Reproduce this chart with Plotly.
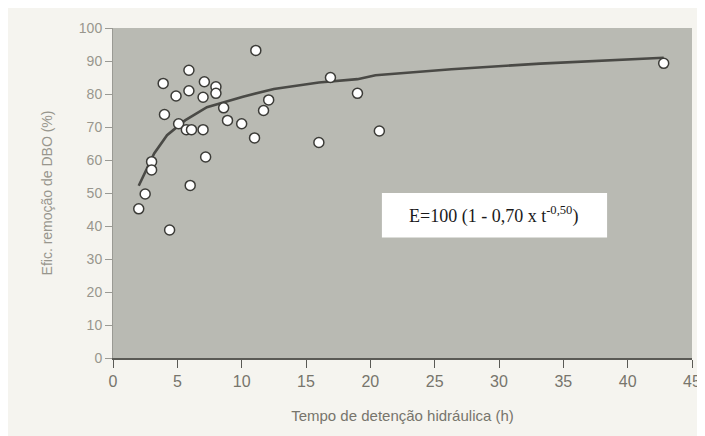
import plotly.graph_objects as go

# Observed data points (detention time h, BOD removal %)
t_obs = [2.0, 2.5, 3.0, 3.0, 3.9, 4.0, 4.4, 4.9, 5.1, 5.9, 5.9, 5.7, 6.1, 6.0,
         7.1, 7.0, 7.0, 7.2, 8.0, 8.0, 8.6, 8.9, 10.0, 11.0, 11.1, 11.7, 12.1,
         16.0, 16.9, 19.0, 20.7, 42.8]
e_obs = [45.2, 49.7, 59.5, 57.0, 83.2, 73.8, 38.8, 79.4, 71.0, 87.2, 81.0, 69.2, 69.2, 52.3,
         83.7, 79.0, 69.2, 60.9, 82.2, 80.2, 75.8, 72.0, 71.0, 66.7, 93.2, 75.0, 78.2,
         65.3, 85.0, 80.2, 68.8, 89.3]

# Fitted curve
t_fit = [2.0, 3.2, 4.2, 5.6, 7.3, 9.1, 10.1, 12.5, 16.0, 19.0, 20.4, 26.3, 33.2, 42.8]
e_fit = [52.2, 62.0, 67.5, 72.0, 76.0, 78.0, 79.2, 81.5, 83.5, 84.5, 85.7, 87.5, 89.2, 91.0]

x_ticks = [0, 5, 10, 15, 20, 25, 30, 35, 40, 45]
y_ticks = [0, 10, 20, 30, 40, 50, 60, 70, 80, 90, 100]

fig = go.Figure()
fig.add_trace(go.Scatter(x=t_fit, y=e_fit, mode="lines",
                         line=dict(color="#4a4a46", width=2.6), hoverinfo="skip"))
fig.add_trace(go.Scatter(x=t_obs, y=e_obs, mode="markers",
                         marker=dict(size=10, color="white",
                                     line=dict(color="#3c3c38", width=1.5))))

fig.add_shape(type="rect", x0=20.9, x1=38.4, y0=36.5, y1=50, xref="x", yref="y",
              fillcolor="white", line=dict(width=0), layer="above")
fig.add_annotation(x=29.6, y=43.2, xref="x", yref="y", showarrow=False,
                   text="E=100 (1 - 0,70 x t<sup>-0,50</sup>)",
                   font=dict(family="Liberation Serif", size=18, color="#1a1a1a"))

fig.update_layout(
    width=705, height=436,
    margin=dict(l=105, r=12, t=18, b=86),
    paper_bgcolor="#f5f4ef",
    plot_bgcolor="#b9bab3",
    showlegend=False,
    font=dict(family="Liberation Sans", color="#85837a"),
)
fig.update_xaxes(range=[0, 45], tickvals=x_ticks, showgrid=False, zeroline=False,
                 showline=True, linecolor="#5a5a55", linewidth=1.5,
                 ticks="outside", ticklen=8, tickcolor="#5a5a55",
                 tickfont=dict(size=16, color="#77756c"),
                 title=dict(text="Tempo de detenção hidráulica (h)",
                            font=dict(size=15, color="#77756c"), standoff=22))
fig.update_yaxes(range=[0, 100], tickvals=y_ticks, showgrid=False, zeroline=False,
                 showline=True, linecolor="#9a9a94", linewidth=1,
                 ticks="outside", ticklen=7, tickcolor="#9a9a94",
                 tickfont=dict(size=14, color="#98968d"),
                 title=dict(text="Efic. remoção de DBO (%)",
                            font=dict(size=14, color="#98968d"), standoff=22))

fig.write_html("out.html")
